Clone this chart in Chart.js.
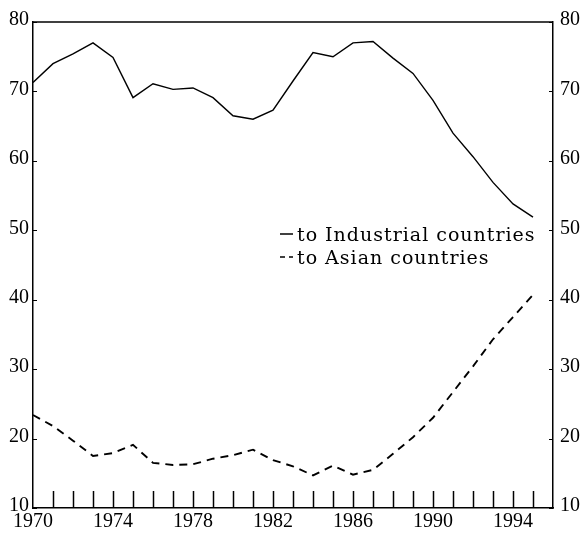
<!DOCTYPE html>
<html>
<head>
<meta charset="utf-8">
<script src="https://cdn.jsdelivr.net/npm/chart.js@4/dist/chart.umd.min.js"></script>
<style>
  html, body { margin: 0; padding: 0; background: #fff; }
  #wrap { position: relative; width: 585px; height: 535px; }
</style>
</head>
<body>
<div id="wrap"><canvas id="c" width="585" height="535"></canvas></div>
<script>
const years = [1970, 1971, 1972, 1973, 1974, 1975, 1976, 1977, 1978, 1979, 1980, 1981, 1982,
               1983, 1984, 1985, 1986, 1987, 1988, 1989, 1990, 1991, 1992, 1993, 1994, 1995];
const industrial = [71.3, 74.0, 75.4, 77.0, 74.9, 69.1, 71.1, 70.3, 70.5, 69.1, 66.5, 66.0, 67.3,
                    71.5, 75.6, 75.0, 77.0, 77.2, 74.8, 72.6, 68.7, 64.0, 60.6, 56.9, 53.8, 51.9];
const asian = [23.4, 21.8, 19.7, 17.5, 17.9, 19.1, 16.5, 16.2, 16.3, 17.1, 17.6, 18.4, 16.9,
               16.0, 14.7, 16.1, 14.8, 15.5, 17.8, 20.2, 23.0, 26.7, 30.4, 34.3, 37.5, 40.7];
const seriesNames = ["to Industrial countries", "to Asian countries"];
const xLabelYears = [1970, 1974, 1978, 1982, 1986, 1990, 1994];
const yTickValues = [10, 20, 30, 40, 50, 60, 70, 80];

const toPoints = vals => years.map((yr, i) => ({ x: yr, y: vals[i] }));
const tickFont = { family: "'Liberation Serif', 'Times New Roman', serif", size: 20 };

const frame = {
  id: 'frame',
  afterDraw(chart) {
    const ctx = chart.ctx;
    const { left, right, top, bottom } = chart.chartArea;
    const xs = chart.scales.x, ys = chart.scales.y;
    ctx.save();
    ctx.strokeStyle = '#000';
    ctx.lineWidth = 1.5;
    // top border
    ctx.beginPath(); ctx.moveTo(left, top); ctx.lineTo(right, top); ctx.stroke();
    // inward year ticks along the bottom
    years.slice(1).forEach(yr => {
      const px = Math.round(xs.getPixelForValue(yr)) + 0.5;
      ctx.beginPath(); ctx.moveTo(px, bottom); ctx.lineTo(px, bottom - 17); ctx.stroke();
    });
    // small inward ticks on both y axes
    ctx.lineWidth = 1;
    yTickValues.forEach(v => {
      const py = Math.round(ys.getPixelForValue(v)) + 0.5;
      ctx.beginPath(); ctx.moveTo(left, py); ctx.lineTo(left + 4, py); ctx.stroke();
      ctx.beginPath(); ctx.moveTo(right, py); ctx.lineTo(right - 4, py); ctx.stroke();
    });
    // legend
    const ds = chart.data.datasets;
    const lx = 280, tx = 297;
    const rows = [241, 264];
    ctx.font = "19px 'DejaVu Serif', serif";
    ctx.fillStyle = '#000';
    ctx.textBaseline = 'alphabetic';
    try { ctx.letterSpacing = '1px'; } catch (e) {}
    ds.forEach((d, i) => {
      const y = rows[i];
      ctx.lineWidth = 1.5;
      ctx.setLineDash(d.borderDash && d.borderDash.length ? [5, 4] : []);
      ctx.beginPath(); ctx.moveTo(lx, y - 7); ctx.lineTo(lx + 13, y - 7); ctx.stroke();
      ctx.setLineDash([]);
      ctx.fillText(d.label, tx, y);
    });
    ctx.restore();
  }
};

new Chart(document.getElementById('c'), {
  type: 'line',
  data: {
    datasets: [
      { label: seriesNames[0], data: toPoints(industrial), borderColor: '#000', borderWidth: 1.4,
        pointRadius: 0, tension: 0, fill: false, yAxisID: 'y' },
      { label: seriesNames[1], data: toPoints(asian), borderColor: '#000', borderWidth: 1.9,
        borderDash: [8, 6], pointRadius: 0, tension: 0, fill: false, yAxisID: 'y' }
    ]
  },
  options: {
    responsive: false,
    animation: false,
    devicePixelRatio: 1,
    layout: { padding: { top: 22, left: 0, right: 0, bottom: 0 } },
    plugins: { legend: { display: false }, tooltip: { enabled: false } },
    scales: {
      x: {
        type: 'linear', min: 1970, max: 1996,
        afterFit: s => { s.height = 27; },
        grid: { display: true, drawOnChartArea: false, drawTicks: false },
        border: { display: true, color: '#000', width: 1.5 },
        ticks: {
          stepSize: 1, autoSkip: false, maxRotation: 0, padding: 2, color: '#000', font: tickFont,
          callback: v => xLabelYears.includes(v) ? String(v) : ''
        }
      },
      y: {
        position: 'left', min: 10, max: 80,
        afterFit: s => { s.width = 33; },
        grid: { display: true, drawOnChartArea: false, drawTicks: false },
        border: { display: true, color: '#000', width: 1.5 },
        ticks: { stepSize: 10, padding: 4, color: '#000', font: tickFont, labelOffset: -2 }
      },
      y2: {
        position: 'right', min: 10, max: 80,
        afterFit: s => { s.width = 32; },
        grid: { display: true, drawOnChartArea: false, drawTicks: false },
        border: { display: true, color: '#000', width: 1.5 },
        ticks: { stepSize: 10, padding: 7, color: '#000', font: tickFont, labelOffset: -2 }
      }
    }
  },
  plugins: [frame]
});
</script>
</body>
</html>
